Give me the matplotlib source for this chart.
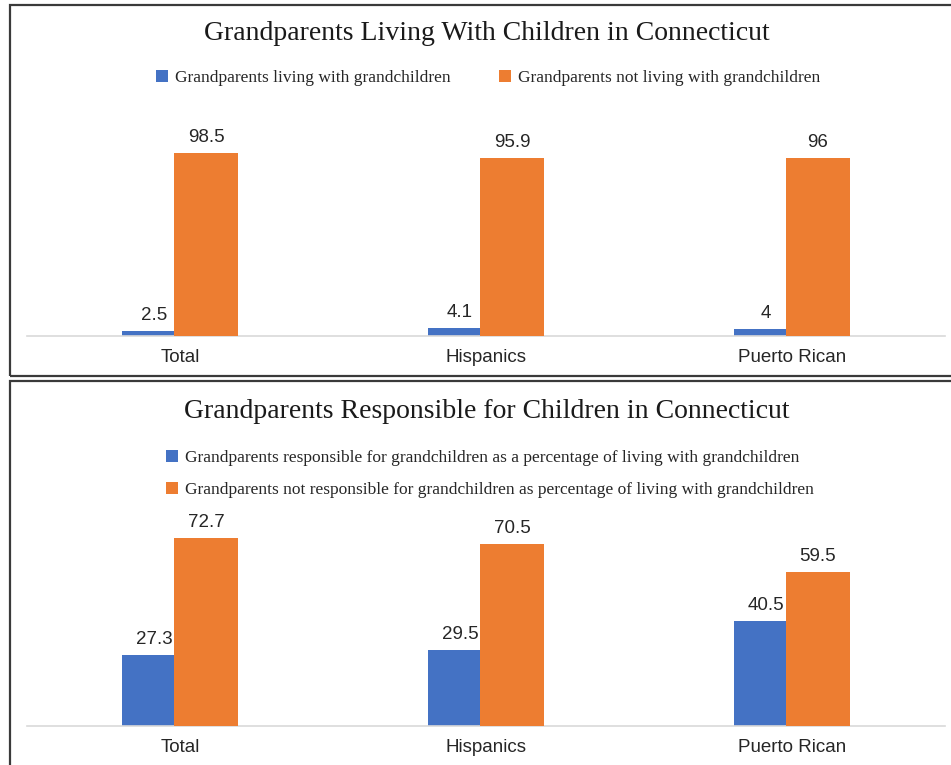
import matplotlib
matplotlib.use("Agg")
import matplotlib.pyplot as plt
import numpy as np
from matplotlib.patches import Rectangle

# data
categories = ["Total", "Hispanics", "Puerto Rican"]

living_with = [2.5, 4.1, 4]
not_living_with = [98.5, 95.9, 96]

responsible = [27.3, 29.5, 40.5]
not_responsible = [72.7, 70.5, 59.5]

title_top = "Grandparents Living With Children in Connecticut"
title_bottom = "Grandparents Responsible for Children in Connecticut"
legend_top = ["Grandparents living with grandchildren",
              "Grandparents not living with grandchildren"]
legend_bottom = [
    "Grandparents responsible for grandchildren as a percentage of living with grandchildren",
    "Grandparents not responsible for grandchildren as percentage of living with grandchildren",
]

BLUE = "#4472C4"
ORANGE = "#ED7D31"
W, H = 951, 765

fig = plt.figure(figsize=(W / 100, H / 100), dpi=100)


def px_rect(x0, y0, x1, y1):
    # pixel box (top-left origin) -> figure fraction [l, b, w, h]
    return [x0 / W, 1 - y1 / H, (x1 - x0) / W, (y1 - y0) / H]


def panel(rect, vals_a, vals_b, ymax, title, title_y, labels, legend_kw):
    ax = fig.add_axes(rect)
    x = np.arange(len(categories))
    width = 0.206
    b1 = ax.bar(x - 0.085, vals_a, width, color=BLUE, label=labels[0], zorder=2)
    b2 = ax.bar(x + 0.085, vals_b, width, color=ORANGE, label=labels[1], zorder=3)
    for bars in (b1, b2):
        ax.bar_label(bars, labels=[f"{v:g}" for v in bars.datavalues],
                     padding=5, fontsize=13.5, family="Liberation Sans",
                     color="#262626")
    ax.set_xlim(-0.5, 2.5)
    ax.set_ylim(0, ymax)
    ax.set_xticks(x, categories, fontsize=13.5, family="Liberation Sans",
                  color="#262626")
    ax.tick_params(axis="x", length=0, pad=9)
    ax.set_yticks([])
    for s in ["top", "left", "right"]:
        ax.spines[s].set_visible(False)
    ax.spines["bottom"].set_color("#d9d9d9")
    ax.spines["bottom"].set_linewidth(1.2)
    fig.text(487 / W, 1 - title_y / H, title, ha="center", va="center",
             fontsize=20, family="Liberation Serif", color="#1a1a1a")
    leg = ax.legend(frameon=False, handlelength=0.7, handleheight=0.7,
                    handletextpad=0.4, prop={"family": "Liberation Serif",
                                             "size": 12.5},
                    bbox_transform=fig.transFigure, **legend_kw)
    for t in leg.get_texts():
        t.set_color("#262626")
    return ax


panel(px_rect(27, 336 - 110 * 1.858, 945, 336), living_with, not_living_with,
      110, title_top, 34, legend_top,
      dict(ncol=2, loc="center", bbox_to_anchor=(488 / W, 1 - 78 / H),
           columnspacing=2.8))

panel(px_rect(27, 726 - 80 * 2.586, 945, 726), responsible, not_responsible,
      80, title_bottom, 412, legend_bottom,
      dict(ncol=1, loc="upper left", bbox_to_anchor=(150 / W, 1 - 434 / H),
           labelspacing=0.95))

# panel borders
for y0, y1 in [(5, 376), (381, 775)]:
    fig.patches.append(Rectangle((10 / W, 1 - y1 / H), 960 / W, (y1 - y0) / H,
                                 transform=fig.transFigure, fill=False,
                                 edgecolor="#3a3a3a", linewidth=1.6))

fig.savefig("out.png", dpi=100)
